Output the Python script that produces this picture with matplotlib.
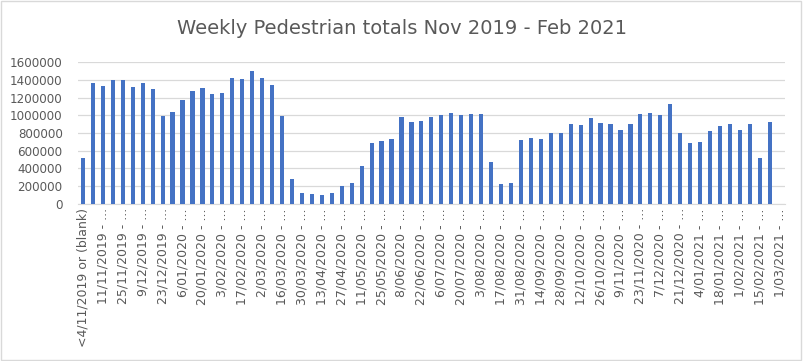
import matplotlib
matplotlib.use('Agg')
import matplotlib.pyplot as plt
from matplotlib.patches import Rectangle


TITLE = 'Weekly Pedestrian totals Nov 2019 - Feb 2021'

# one value per week, first is the "<4/11/2019 or (blank)" bucket, last week is empty
weekly_totals = [
    518000, 1363000, 1333000, 1401000, 1401000, 1318000, 1360000, 1292000,
    995000, 1037000, 1168000, 1273000, 1311000, 1236000, 1254000, 1416000,
    1408000, 1499000, 1420000, 1345000, 988000, 287000, 122000, 109000,
    98000, 120000, 207000, 240000, 432000, 684000, 706000, 729000,
    980000, 924000, 939000, 980000, 999000, 1025000, 999000, 1018000,
    1014000, 473000, 229000, 233000, 721000, 747000, 729000, 800000,
    804000, 905000, 890000, 973000, 916000, 905000, 834000, 905000,
    1018000, 1029000, 999000, 1127000, 804000, 684000, 702000, 819000,
    879000, 905000, 830000, 898000, 515000, 920000, 0,
]

# every second week gets a label on the axis
tick_labels = [
    '<4/11/2019 or (blank)', '11/11/2019 - ...', '25/11/2019 - ...',
    '9/12/2019 - ...', '23/12/2019 - ...', '6/01/2020 - ...',
    '20/01/2020 - ...', '3/02/2020 - ...', '17/02/2020 - ...',
    '2/03/2020 - ...', '16/03/2020 - ...', '30/03/2020 - ...',
    '13/04/2020 - ...', '27/04/2020 - ...', '11/05/2020 - ...',
    '25/05/2020 - ...', '8/06/2020 - ...', '22/06/2020 - ...',
    '6/07/2020 - ...', '20/07/2020 - ...', '3/08/2020 - ...',
    '17/08/2020 - ...', '31/08/2020 - ...', '14/09/2020 - ...',
    '28/09/2020 - ...', '12/10/2020 - ...', '26/10/2020 - ...',
    '9/11/2020 - ...', '23/11/2020 - ...', '7/12/2020 - ...',
    '21/12/2020 - ...', '4/01/2021 - ...', '18/01/2021 - ...',
    '1/02/2021 - ...', '15/02/2021 - ...', '1/03/2021 - ...',
]

y_ticks = list(range(0, 1600001, 200000))

text_grey = '#595959'
bar_blue = '#4472C4'

fig = plt.figure(figsize=(8.04, 3.61), dpi=100)
ax = fig.add_axes([0.097, 0.435, 0.879, 0.393])

x = list(range(len(weekly_totals)))
ax.bar(x, weekly_totals, width=0.42, color=bar_blue, zorder=3)

ax.set_xlim(-0.5, len(weekly_totals) - 0.5)
ax.set_ylim(0, 1600000)
ax.set_yticks(y_ticks)
ax.set_yticklabels([str(v) for v in y_ticks])
ax.yaxis.grid(True, color='#d9d9d9', linewidth=0.9, zorder=0)

ax.set_xticks(x[::2])
ax.set_xticklabels(tick_labels, rotation=90, va='top', ha='center')

for side in ('top', 'right', 'left'):
    ax.spines[side].set_visible(False)
ax.spines['bottom'].set_color('#d9d9d9')
ax.tick_params(axis='y', length=0, labelsize=8.6, labelcolor=text_grey, pad=11)
ax.tick_params(axis='x', length=0, labelsize=9, labelcolor=text_grey, pad=3)

fig.text(0.5, 0.922, TITLE, ha='center', va='center', fontsize=14, color=text_grey)

# light chart-area border like the spreadsheet export
fig.patches.append(Rectangle((0.001, 0.002), 0.995, 0.996, transform=fig.transFigure,
                             fill=False, edgecolor='#d9d9d9', linewidth=1))

fig.savefig('out.png', dpi=100)
